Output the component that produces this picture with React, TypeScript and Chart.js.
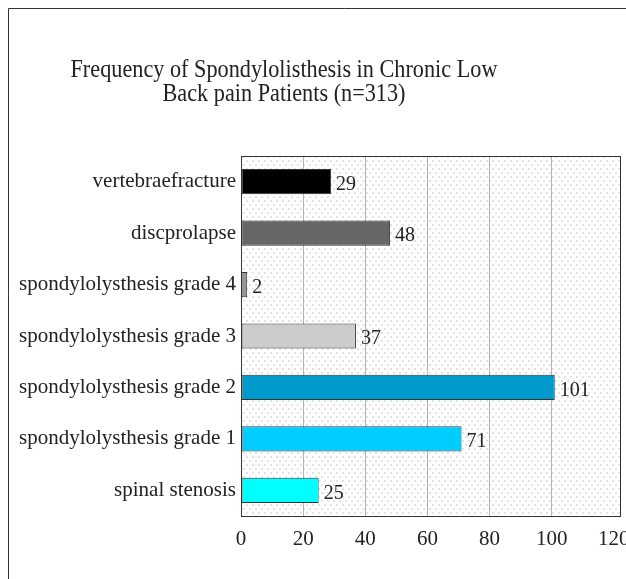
import React, { useEffect, useRef } from "react";
import { Chart, registerables } from "chart.js";

Chart.register(...registerables);

const categories = [
  "vertebraefracture",
  "discprolapse",
  "spondylolysthesis grade 4",
  "spondylolysthesis grade 3",
  "spondylolysthesis grade 2",
  "spondylolysthesis grade 1",
  "spinal stenosis",
];
const values = [29, 48, 2, 37, 101, 71, 25];
const barColors = ["#000000", "#666666", "#969696", "#cccccc", "#0099cc", "#00ccff", "#00ffff"];
const titleLines = ["Frequency of Spondylolisthesis in Chronic Low", "Back pain Patients (n=313)"];
const xTickValues = [0, 20, 40, 60, 80, 100, 120];

const FONT = "'Liberation Serif', 'Times New Roman', serif";

function makePattern(ctx: CanvasRenderingContext2D) {
  const c = document.createElement("canvas");
  c.width = 6;
  c.height = 8;
  const g = c.getContext("2d")!;
  g.fillStyle = "#ffffff";
  g.fillRect(0, 0, 6, 8);
  g.fillStyle = "#e2e2e2";
  g.fillRect(0, 0, 2, 2);
  g.fillRect(3, 4, 2, 2);
  return ctx.createPattern(c, "repeat");
}

const framePlugin = {
  id: "framePlugin",
  beforeDraw(chart: any) {
    const { ctx, chartArea } = chart;
    ctx.save();
    ctx.fillStyle = "#ffffff";
    ctx.fillRect(0, 0, chart.width, chart.height);
    ctx.strokeStyle = "#333333";
    ctx.lineWidth = 1;
    ctx.beginPath();
    ctx.moveTo(8.5, chart.height + 2);
    ctx.lineTo(8.5, 8.5);
    ctx.lineTo(chart.width + 2, 8.5);
    ctx.stroke();
    const pat = makePattern(ctx);
    if (pat) {
      ctx.fillStyle = pat;
      ctx.fillRect(chartArea.left, chartArea.top, chartArea.right - chartArea.left, chartArea.bottom - chartArea.top);
    }
    // title (slightly condensed horizontally like the reference)
    ctx.fillStyle = "#222222";
    ctx.font = `25px ${FONT}`;
    ctx.textAlign = "center";
    ctx.textBaseline = "alphabetic";
    const sx = 0.89;
    ctx.translate(284, 0);
    ctx.scale(sx, 1);
    ctx.fillText(titleLines[0], 0, 77);
    ctx.fillText(titleLines[1], 0, 101);
    ctx.restore();
  },
  beforeDatasetsDraw(chart: any) {
    const { ctx, chartArea } = chart;
    ctx.save();
    ctx.strokeStyle = "#333333";
    ctx.lineWidth = 1;
    ctx.strokeRect(
      Math.round(chartArea.left) + 0.5,
      Math.round(chartArea.top) + 0.5,
      Math.round(chartArea.right - chartArea.left),
      Math.round(chartArea.bottom - chartArea.top)
    );
    ctx.restore();
  },
  afterDatasetsDraw(chart: any) {
    const { ctx } = chart;
    const meta = chart.getDatasetMeta(0);
    ctx.save();
    ctx.fillStyle = "#222222";
    ctx.font = `20px ${FONT}`;
    ctx.textAlign = "left";
    ctx.textBaseline = "middle";
    meta.data.forEach((bar: any, i: number) => {
      ctx.fillText(String(values[i]), bar.x + 5, bar.y + 3);
    });
    ctx.restore();
  },
};

export default function App() {
  const ref = useRef<HTMLCanvasElement>(null);
  useEffect(() => {
    const canvas = ref.current!;
    const chart = new Chart(canvas, {
      type: "bar",
      data: {
        labels: categories,
        datasets: [
          {
            data: values,
            backgroundColor: barColors,
            borderColor: "#333333",
            borderWidth: 1,
            borderSkipped: false,
            categoryPercentage: 1,
            barPercentage: 0.49,
          },
        ],
      },
      options: {
        indexAxis: "y",
        animation: false,
        responsive: false,
        maintainAspectRatio: false,
        layout: { padding: { top: 156, right: 60, bottom: 0, left: 0 } },
        plugins: { legend: { display: false }, title: { display: false }, tooltip: { enabled: false } },
        scales: {
          x: {
            min: 0,
            max: 122,
            afterBuildTicks: (scale: any) => {
              scale.ticks = xTickValues.map((v) => ({ value: v }));
            },
            afterFit: (scale: any) => {
              scale.height = 63;
            },
            grid: {
              drawTicks: false,
              color: (c: any) => (c.tick && (c.tick.value === 0 || c.tick.value === 120) ? "rgba(0,0,0,0)" : "#b4b4b4"),
              lineWidth: 1,
            },
            border: { display: false },
            ticks: {
              padding: 11,
              color: "#222222",
              font: { family: FONT, size: 21 },
              maxRotation: 0,
              autoSkip: false,
            },
          },
          y: {
            afterFit: (scale: any) => {
              scale.width = 241;
            },
            grid: { display: false, drawTicks: false },
            border: { display: false },
            ticks: {
              padding: 5,
              color: "#222222",
              font: { family: FONT, size: 21 },
              autoSkip: false,
            },
          },
        },
      },
      plugins: [framePlugin],
    });
    return () => chart.destroy();
  }, []);
  return (
    <div style={{ position: "absolute", left: 0, top: 0, width: 626, height: 579, overflow: "hidden", background: "#fff" }}>
      <canvas ref={ref} width={680} height={579} style={{ display: "block", width: 680, height: 579 }} />
    </div>
  );
}
